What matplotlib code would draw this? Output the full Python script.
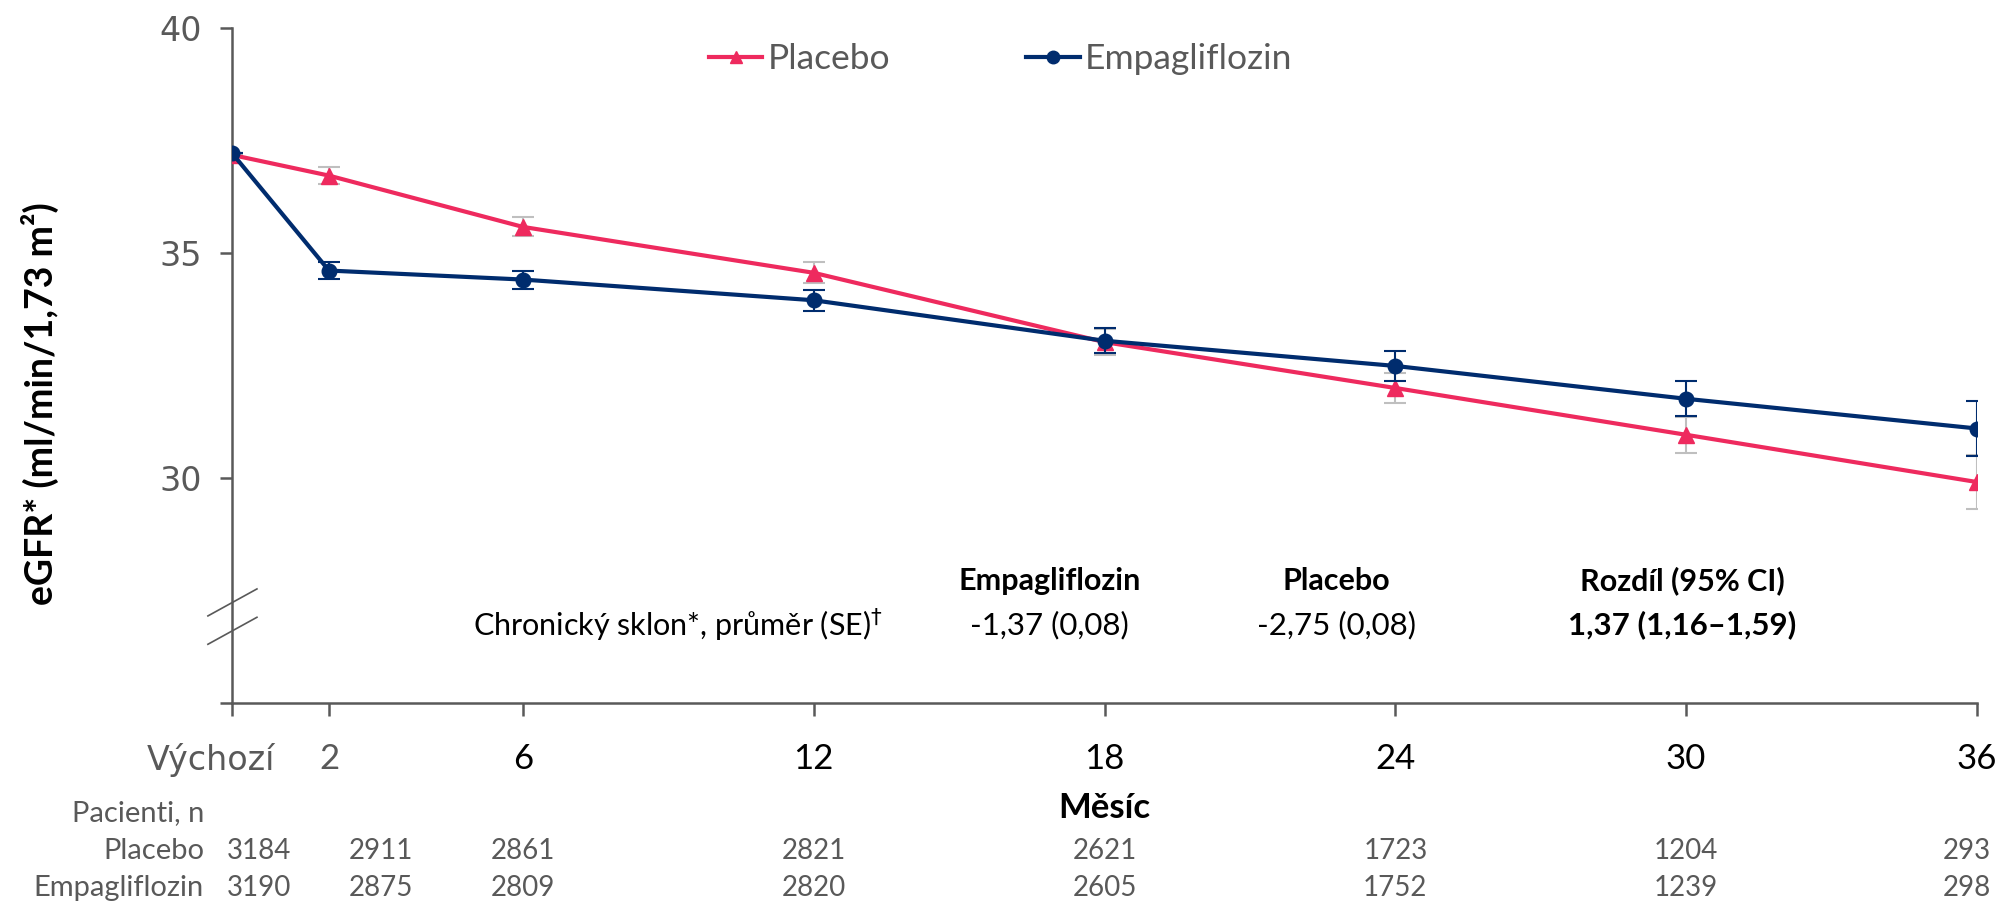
import matplotlib
matplotlib.use("Agg")
import matplotlib.pyplot as plt
import matplotlib.transforms as mtrans
from matplotlib.lines import Line2D

# data
months = [0, 2, 6, 12, 18, 24, 30, 36]
tick_labels = ["Výchozí", "2", "6", "12", "18", "24", "30", "36"]

placebo = [37.18, 36.72, 35.58, 34.56, 33.02, 32.00, 30.96, 29.91]
placebo_se = [0.0, 0.19, 0.21, 0.23, 0.28, 0.33, 0.40, 0.60]
empa = [37.22, 34.61, 34.41, 33.95, 33.05, 32.49, 31.76, 31.10]
empa_se = [0.0, 0.18, 0.20, 0.23, 0.28, 0.33, 0.39, 0.62]

n_placebo = [3184, 2911, 2861, 2821, 2621, 1723, 1204, 293]
n_empa = [3190, 2875, 2809, 2820, 2605, 1752, 1239, 298]

slope_cols = ["Empagliflozin", "Placebo", "Rozdíl (95% CI)"]
slope_vals = ["-1,37 (0,08)", "-2,75 (0,08)", "1,37 (1,16–1,59)"]

PINK = "#EE2A5E"
NAVY = "#002C6E"
GREY = "#595959"
NARROW = ["Lato", "DejaVu Sans"]
GOTHIC = ["DejaVu Sans"]

W, H = 2001, 905
fig = plt.figure(figsize=(W / 100, H / 100), dpi=100)
ax = fig.add_axes([232 / W, 1 - 703 / H, 1745 / W, 675 / H])

ax.errorbar(months, placebo, yerr=placebo_se, color=PINK, lw=3, marker="^",
            ms=11, ecolor="#BFBFBF", elinewidth=1.5, capsize=8, capthick=1.5,
            zorder=3)
ax.errorbar(months, empa, yerr=empa_se, color=NAVY, lw=3, marker="o",
            ms=10.5, ecolor=NAVY, elinewidth=1.5, capsize=8, capthick=1.5,
            zorder=4)

ax.set_xlim(0, 36)
ax.set_ylim(25, 40)
for s in ["top", "right"]:
    ax.spines[s].set_visible(False)
for s in ["left", "bottom"]:
    ax.spines[s].set_color(GREY)
    ax.spines[s].set_linewidth(1.8)

ax.set_yticks([25, 30, 35, 40])
ax.set_yticklabels(["", "30", "35", "40"], family=GOTHIC, fontsize=24, color=GREY)
ax.tick_params(axis="y", direction="out", length=9, width=1.8, color=GREY, pad=13)

ax.set_xticks(months)
ax.set_xticklabels(tick_labels, family=NARROW, fontsize=25, color="black")
ax.tick_params(axis="x", direction="out", length=9, width=1.8, color=GREY, pad=20)
xl = ax.get_xticklabels()
xl[0].set_family(GOTHIC)
xl[0].set_fontsize(24)
xl[0].set_color(GREY)
xl[0].set_transform(xl[0].get_transform() +
                    mtrans.ScaledTranslation(-0.21, 0, fig.dpi_scale_trans))
xl[1].set_color(GREY)

ax.set_ylabel("eGFR* (ml/min/1,73 m²)", family=NARROW, fontsize=27,
              fontweight="bold")
ax.yaxis.set_label_coords(-0.099, 0.444)

# axis break marks
for y0, y1 in [(0.129, 0.169), (0.087, 0.127)]:
    ax.add_line(Line2D([-0.0138, 0.0143], [y0, y1], transform=ax.transAxes,
                       color=GREY, lw=1.2, clip_on=False))

# legend
handles = [Line2D([], [], color=PINK, lw=3, marker="^", ms=9),
           Line2D([], [], color=NAVY, lw=3, marker="o", ms=9)]
leg = fig.legend(handles, ["Placebo", "Empagliflozin"], loc="center left",
                 bbox_to_anchor=(709 / W, 1 - 59 / H), ncol=2, frameon=False,
                 handlelength=1.5, handletextpad=0.15, columnspacing=3.85,
                 borderpad=0, borderaxespad=0,
                 prop={"family": NARROW, "size": 25.5})
for t in leg.get_texts():
    t.set_color(GREY)

# chronic slope table
col_x = [16.86, 22.78, 29.92]
for i, (c, v) in enumerate(zip(slope_cols, slope_vals)):
    ax.text(col_x[i], 27.72, c, ha="center", va="center", family=NARROW,
            fontsize=22, fontweight="bold")
    ax.text(col_x[i], 26.73, v, ha="center", va="center", family=NARROW,
            fontsize=22.5, fontweight="bold" if i == 2 else "normal")
ax.text(9.2, 26.73, "Chronický sklon*, průměr (SE)$^{\\dagger}$", ha="center",
        va="center", family=NARROW, fontsize=22)

# patients at risk
blend = mtrans.blended_transform_factory(ax.transData, fig.transFigure)
ax.text(18, 1 - 808 / H, "Měsíc", transform=blend, ha="center", va="center",
        family=NARROW, fontsize=25, fontweight="bold")
fig.text(204 / W, 1 - 813 / H, "Pacienti, n", ha="right", va="center",
         family=NARROW, fontsize=21, color=GREY)
fig.text(204 / W, 1 - 851 / H, "Placebo", ha="right", va="center",
         family=NARROW, fontsize=21, color=GREY)
fig.text(204 / W, 1 - 888 / H, "Empagliflozin", ha="right", va="center",
         family=NARROW, fontsize=21, color=GREY)
nx_off = [27, 52, 0, 0, 0, 0, 0, -10]
for m, off, a, b in zip(months, nx_off, n_placebo, n_empa):
    tr = blend + mtrans.ScaledTranslation(off / 100, 0, fig.dpi_scale_trans)
    ax.text(m, 1 - 851 / H, str(a), transform=tr, ha="center", va="center",
            family=NARROW, fontsize=20, color=GREY)
    ax.text(m, 1 - 888 / H, str(b), transform=tr, ha="center", va="center",
            family=NARROW, fontsize=20, color=GREY)

fig.savefig("out.png", dpi=100)
